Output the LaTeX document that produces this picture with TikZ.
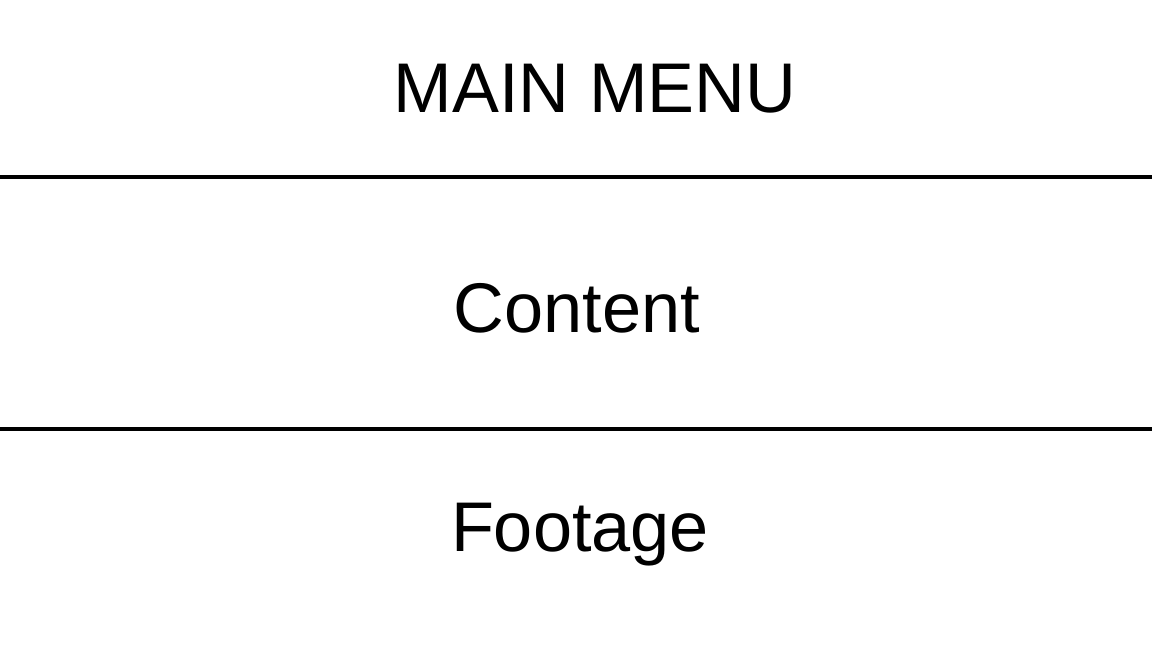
\documentclass[tikz,border=0pt]{standalone}
\usepackage{fontspec}
\setmainfont{Liberation Sans}
\usetikzlibrary{positioning}

\begin{document}
\begin{tikzpicture}[
  x=0.025cm, y=-0.025cm,
  heading/.style={anchor=base, inner sep=0pt, font=\fontsize{50}{60}\selectfont},
  divider/.style={line width=3pt}
]
\useasboundingbox (0,0) rectangle (1152,648);
\node[heading] (menu) at (595,113) {MAIN MENU};
\node[heading] (content) at (577,333) {Content};
\node[heading] (footage) at (580,552) {Footage};
% section dividers
\coordinate (topL) at (0,177);
\coordinate (topR) at (1152,177);
\coordinate (botL) at (0,429);
\coordinate (botR) at (1152,429);
\draw[divider] (topL) -- (topR);
\draw[divider] (botL) -- (botR);
\end{tikzpicture}
\end{document}
